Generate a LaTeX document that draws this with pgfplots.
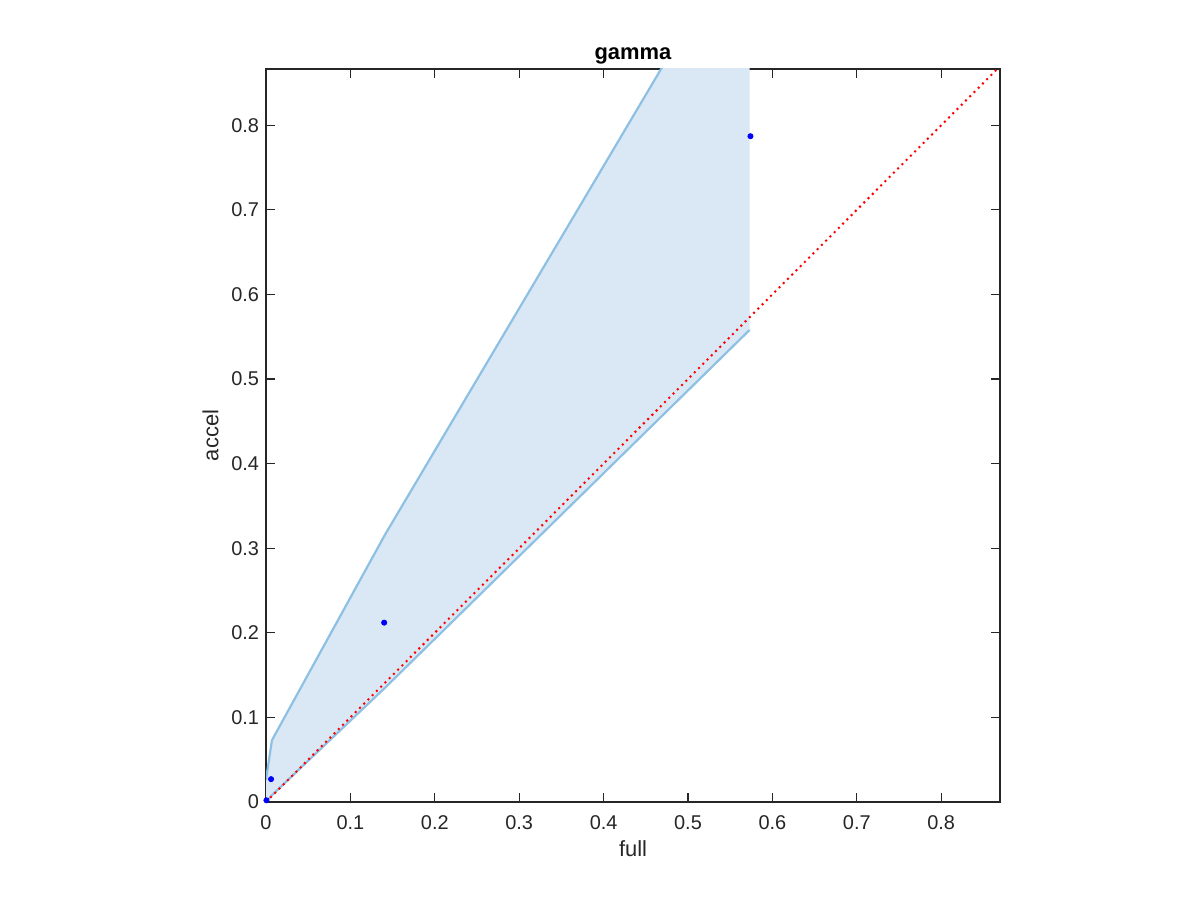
\documentclass[border=0pt]{standalone}
\usepackage{pgfplots}
\pgfplotsset{compat=1.18}
\usepackage{fontspec}
\setmainfont{Liberation Sans}
\definecolor{bandfill}{RGB}{217,232,244}
\definecolor{bandline}{RGB}{141,192,227}
\definecolor{axgray}{RGB}{38,38,38}
\begin{document}
\begin{tikzpicture}[x=1bp,y=1bp]
\useasboundingbox (0,0) rectangle (600,450);
\begin{axis}[
  at={(133bp,49bp)}, anchor=south west,
  scale only axis, width=367bp, height=366.5bp,
  xmin=0, xmax=0.8697, ymin=0, ymax=0.8665,
  xtick={0,0.1,...,0.8}, ytick={0,0.1,...,0.8},
  xticklabels={0,0.1,0.2,0.3,0.4,0.5,0.6,0.7,0.8},
  yticklabels={0,0.1,0.2,0.3,0.4,0.5,0.6,0.7,0.8},
  tick align=inside, major tick length=4.5bp,
  axis line style={axgray, line width=0.6pt},
  tick style={axgray, line width=0.6pt},
  ticklabel style={font=\fontsize{10}{12}\selectfont, text=axgray},
  xticklabel style={yshift=-3.5bp},
  xlabel={full}, ylabel={accel},
  label style={font=\fontsize{11}{13}\selectfont, text=axgray},
  xlabel style={yshift=1.5pt},
  ylabel style={yshift=-0.5pt},
  title={\textbf{gamma}},
  title style={font=\fontsize{11}{13}\selectfont, yshift=-7pt},
  clip=true,
]
\addplot[fill=bandfill, draw=none] coordinates {
  (0,0.026) (0.007,0.073) (0.141,0.316) (0.573,1.043)
  (0.573,0.558) (0.141,0.135) (0.007,0.008) (0,0.0)
} -- cycle;
\addplot[bandline, line width=1.1pt] coordinates {
  (0,0.026) (0.007,0.073) (0.141,0.316) (0.573,1.043)
};
\addplot[bandline, line width=1.1pt] coordinates {
  (0,0.0) (0.007,0.008) (0.141,0.135) (0.573,0.558)
};
\addplot[red, dash pattern=on 1bp off 2bp, line width=1bp] coordinates {(0,0) (0.87,0.87)};
\addplot[only marks, mark=*, mark size=1.3pt, blue] coordinates {
  (0.0005,0.002) (0.006,0.027) (0.140,0.212) (0.574,0.787)
};
\end{axis}
\end{tikzpicture}
\end{document}
